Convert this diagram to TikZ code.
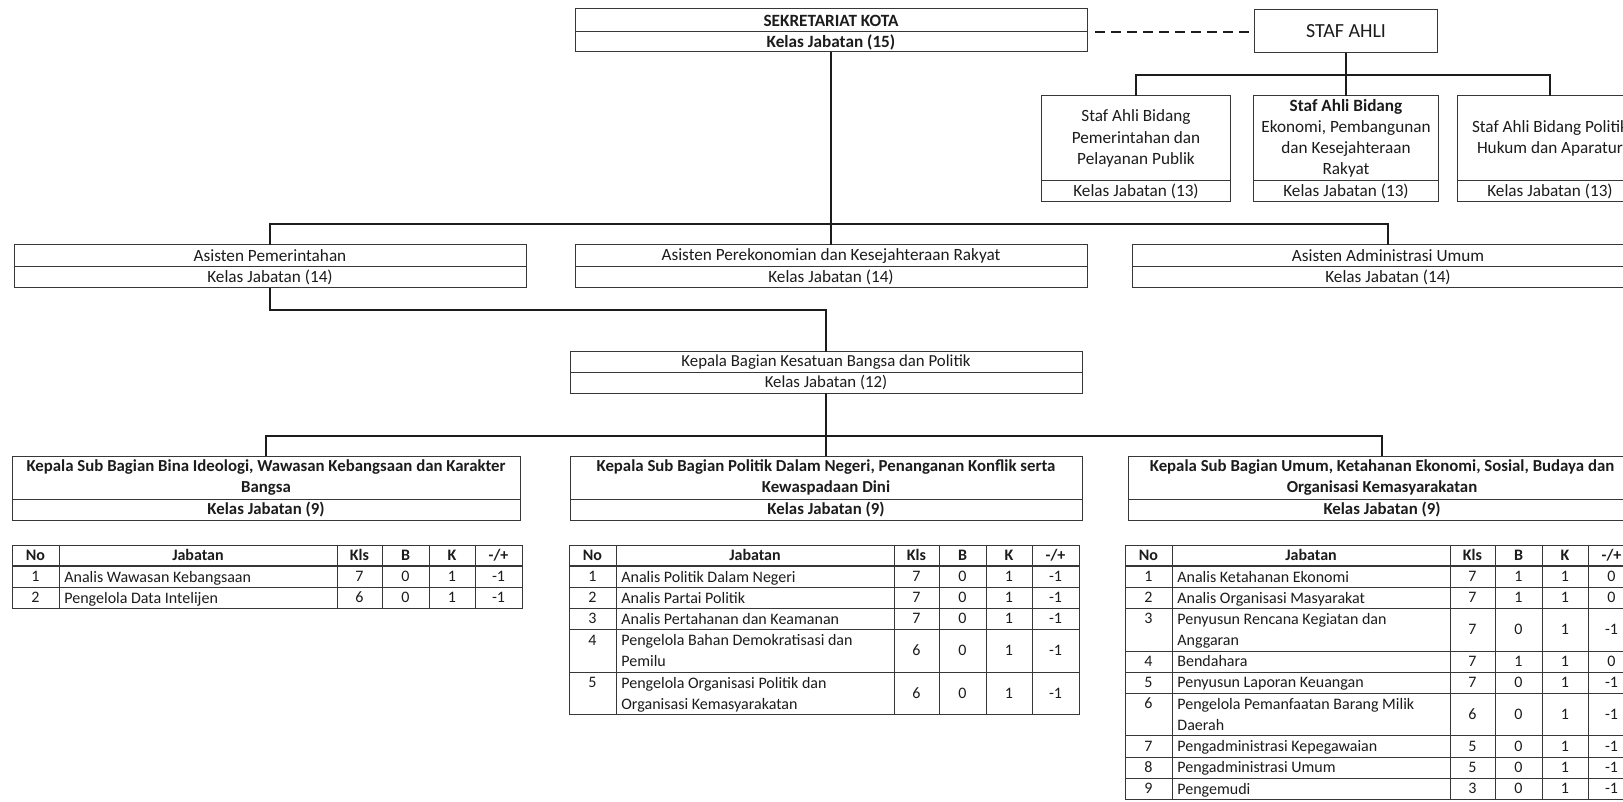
\documentclass[tikz,border=0pt]{standalone}
\usepackage{fontspec}
\setmainfont{Carlito}
\usetikzlibrary{positioning}
\definecolor{ink}{RGB}{28,28,28}
\definecolor{rule}{RGB}{55,55,55}

% one row of a jabatan table (uses the loop macros)
\newcommand{\jrow}[1]{%
  \pgfmathsetmacro\yt{\s*21.2}%
  \pgfmathsetmacro\yb{(\s+\h)*21.2}%
  \pgfmathsetmacro\ym{(\yt+\yb)/2+4.6}%
  \draw[grid] (0,\yb) -- (510,\yb);
  \node[cell] (#1-no\n) at (23.5,\yt+15.2) {\n};
  \node[cell, anchor=north west, align=left] (#1-jab\n) at (52,\yt+4.4) {\jab};
  \node[cell] (#1-kls\n) at (347.5,\ym) {\vkls};
  \node[cell] (#1-b\n) at (393.5,\ym) {\vb};
  \node[cell] (#1-k\n) at (440,\ym) {\vk};
  \node[cell] (#1-d\n) at (486.5,\ym) {\vd};
}
% grid and header of a jabatan table
\newcommand{\jhead}[2]{%
  \foreach \cx in {0,47,325,370,417,463,510} \draw[grid] (\cx,0) -- (\cx,#2);
  \draw[grid] (0,0) -- (510,0);
  \draw[hrule] (0,21.2) -- (510,21.2);
  \node[hcell] (#1-hno) at (23.5,15.2) {No};
  \node[hcell] (#1-hjab) at (186,15.2) {Jabatan};
  \node[hcell] (#1-hkls) at (347.5,15.2) {Kls};
  \node[hcell] (#1-hb) at (393.5,15.2) {B};
  \node[hcell] (#1-hk) at (440,15.2) {K};
  \node[hcell] (#1-hd) at (486.5,15.2) {-/+};
}

\begin{document}
\begin{tikzpicture}[x=0.5pt, y=-0.5pt,
    box/.style={draw=rule, line width=0.5pt, inner sep=0pt, outer sep=0pt,
                align=center, text=ink, minimum width=256pt,
                font=\fontsize{8.6}{10.5}\selectfont},
    bbox/.style={box, font=\bfseries\fontsize{8.4}{10.5}\selectfont},
    sbox/.style={box, minimum width=93pt, font=\fontsize{8.6}{10.6}\selectfont},
    link/.style={draw=ink, line width=1.2pt},
    dashlink/.style={link, dash pattern=on 5pt off 3pt},
    grid/.style={draw=rule, line width=0.4pt},
    hrule/.style={draw=rule, line width=1.2pt},
    cell/.style={inner sep=0pt, anchor=base, text=ink,
                 font=\fontsize{8}{10.5}\selectfont},
    hcell/.style={cell, font=\bfseries\fontsize{8}{10.5}\selectfont}
  ]
  \fill[white] (0,0) rectangle (1623,802);
  \useasboundingbox (0,0) rectangle (1623,802);

  % top
  \node[bbox, minimum height=11.5pt, font=\bfseries\fontsize{8.6}{10.5}\selectfont] (sek) at (831,20.5) {SEKRETARIAT KOTA};
  \node[bbox, minimum height=10pt, font=\bfseries\fontsize{8.6}{10.5}\selectfont, below=0pt of sek] (sekk) {Kelas Jabatan (15)};
  \node[sbox, minimum height=21.5pt, minimum width=91.5pt, font=\fontsize{10}{12}\selectfont] (staf) at (1346,31.5) {STAF AHLI};

  % staf ahli
  \node[sbox, minimum height=42.5pt, minimum width=94.5pt] (sa1) at (1136,138.5) {Staf Ahli Bidang\\Pemerintahan dan\\Pelayanan Publik};
  \node[sbox, minimum height=10.5pt, minimum width=94.5pt, below=0pt of sa1] (sa1k) {Kelas Jabatan (13)};
  \node[sbox, minimum height=42.5pt, minimum width=92.5pt] (sa2) at (1346,138.5) {\textbf{Staf Ahli Bidang}\\Ekonomi, Pembangunan\\dan Kesejahteraan\\Rakyat};
  \node[sbox, minimum height=10.5pt, minimum width=92.5pt, below=0pt of sa2] (sa2k) {Kelas Jabatan (13)};
  \node[sbox, minimum height=42.5pt, minimum width=92.5pt] (sa3) at (1550,138.5) {Staf Ahli Bidang Politik\\Hukum dan Aparatur};
  \node[sbox, minimum height=10.5pt, minimum width=92.5pt, below=0pt of sa3] (sa3k) {Kelas Jabatan (13)};

  % asisten
  \node[box, minimum height=11pt] (asA) at (270,256) {Asisten Pemerintahan};
  \node[box, minimum height=10.5pt, below=0pt of asA] (asAk) {Kelas Jabatan (14)};
  \node[box, minimum height=11pt] (asB) at (831,256) {Asisten Perekonomian dan Kesejahteraan Rakyat};
  \node[box, minimum height=10.5pt, below=0pt of asB] (asBk) {Kelas Jabatan (14)};
  \node[box, minimum height=11pt] (asC) at (1388,256) {Asisten Administrasi Umum};
  \node[box, minimum height=10.5pt, below=0pt of asC] (asCk) {Kelas Jabatan (14)};

  % kepala bagian
  \node[box, minimum height=10.5pt, font=\fontsize{8.4}{10.5}\selectfont] (kabag) at (826,362.5) {Kepala Bagian Kesatuan Bangsa dan Politik};
  \node[box, minimum height=10pt, font=\fontsize{8.4}{10.5}\selectfont, below=0pt of kabag] (kabagk) {Kelas Jabatan (12)};

  % sub bagian
  \node[bbox, minimum height=21.5pt, minimum width=254pt] (sub1) at (266,477.5) {Kepala Sub Bagian Bina Ideologi, Wawasan Kebangsaan dan Karakter\\Bangsa};
  \node[bbox, minimum height=10.5pt, minimum width=254pt, below=0pt of sub1] (sub1k) {Kelas Jabatan (9)};
  \node[bbox, minimum height=21.5pt, minimum width=256pt] (sub2) at (826,477.5) {Kepala Sub Bagian Politik Dalam Negeri, Penanganan Konflik serta\\Kewaspadaan Dini};
  \node[bbox, minimum height=10.5pt, minimum width=256pt, below=0pt of sub2] (sub2k) {Kelas Jabatan (9)};
  \node[bbox, minimum height=21.5pt, minimum width=254pt] (sub3) at (1382,477.5) {Kepala Sub Bagian Umum, Ketahanan Ekonomi, Sosial, Budaya dan\\Organisasi Kemasyarakatan};
  \node[bbox, minimum height=10.5pt, minimum width=254pt, below=0pt of sub3] (sub3k) {Kelas Jabatan (9)};

  % connectors
  \coordinate (stafbar) at (1346,75);
  \coordinate (asbar) at (831,224);
  \coordinate (kbar) at (270,310);
  \coordinate (subbar) at (826,436);
  \draw[dashlink] ([xshift=4pt]sek.south east) -- (sek.south east -| staf.west);
  \draw[link] (staf.south) -- (sa2.north);
  \draw[link] (sa1.north) -- (sa1.north |- stafbar) -- (sa3.north |- stafbar) -- (sa3.north);
  \draw[link] (sekk.south) -- (asB.north);
  \draw[link] (asA.north) -- (asA.north |- asbar) -- (asC.north |- asbar) -- (asC.north);
  \draw[link] (asAk.south) -- (kbar) -| (kabag.north);
  \draw[link] (kabagk.south) -- (sub2.north);
  \draw[link] (sub1.north) -- (sub1.north |- subbar) -- (sub3.north |- subbar) -- (sub3.north);

  % tables
  \begin{scope}[shift={(12,545)}]
    \jhead{ta}{63.6}
    \foreach \s/\h/\n/\jab/\vkls/\vb/\vk/\vd in {
        1/1/1/Analis Wawasan Kebangsaan/7/0/1/-1,
        2/1/2/Pengelola Data Intelijen/6/0/1/-1}
      {\jrow{ta}}
  \end{scope}
  \begin{scope}[shift={(569,545)}]
    \jhead{tb}{169.6}
    \foreach \s/\h/\n/\jab/\vkls/\vb/\vk/\vd in {
        1/1/1/Analis Politik Dalam Negeri/7/0/1/-1,
        2/1/2/Analis Partai Politik/7/0/1/-1,
        3/1/3/Analis Pertahanan dan Keamanan/7/0/1/-1,
        4/2/4/{Pengelola Bahan Demokratisasi dan\\Pemilu}/6/0/1/-1,
        6/2/5/{Pengelola Organisasi Politik dan\\Organisasi Kemasyarakatan}/6/0/1/-1}
      {\jrow{tb}}
  \end{scope}
  \begin{scope}[shift={(1125,545)}]
    \jhead{tc}{254.4}
    \foreach \s/\h/\n/\jab/\vkls/\vb/\vk/\vd in {
        1/1/1/Analis Ketahanan Ekonomi/7/1/1/0,
        2/1/2/Analis Organisasi Masyarakat/7/1/1/0,
        3/2/3/{Penyusun Rencana Kegiatan dan\\Anggaran}/7/0/1/-1,
        5/1/4/Bendahara/7/1/1/0,
        6/1/5/Penyusun Laporan Keuangan/7/0/1/-1,
        7/2/6/{Pengelola Pemanfaatan Barang Milik\\Daerah}/6/0/1/-1,
        9/1/7/Pengadministrasi Kepegawaian/5/0/1/-1,
        10/1/8/Pengadministrasi Umum/5/0/1/-1,
        11/1/9/Pengemudi/3/0/1/-1}
      {\jrow{tc}}
  \end{scope}
\end{tikzpicture}
\end{document}
